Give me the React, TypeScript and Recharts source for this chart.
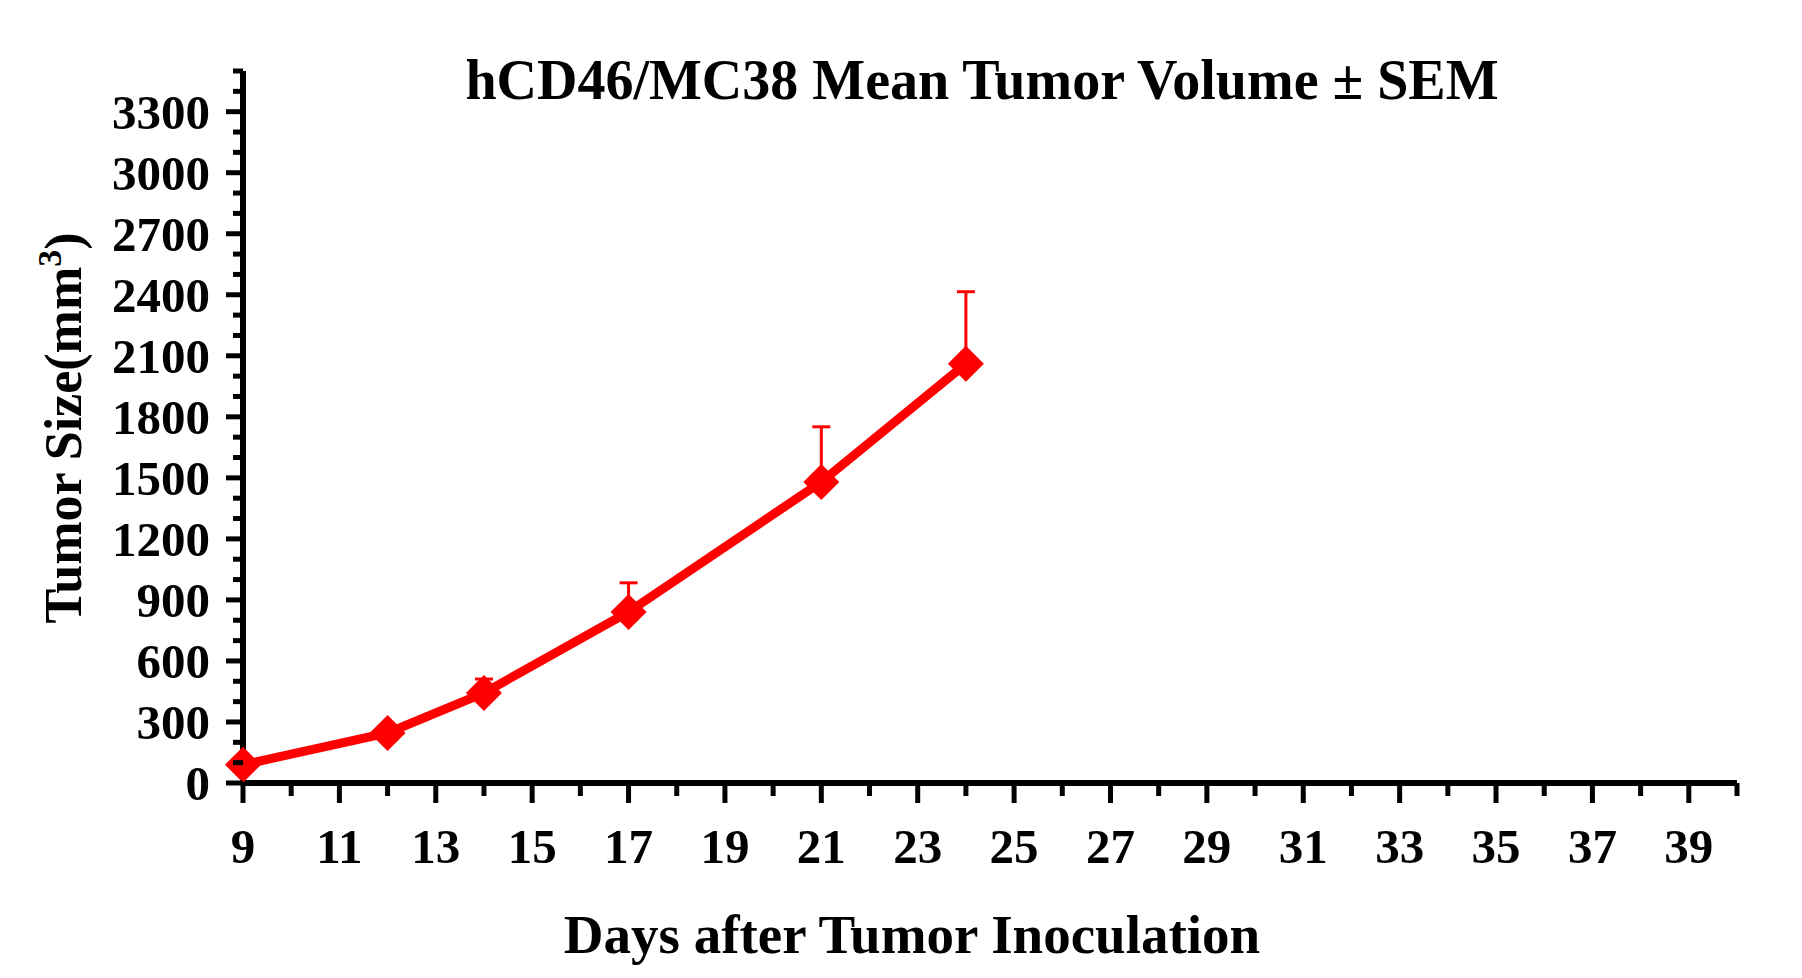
import { LineChart, Line, XAxis, YAxis, ErrorBar } from 'recharts';

// days after inoculation and the mean tumour volume with its upper SEM
const days = [9, 12, 14, 17, 21, 24];
const meanVolume = [90, 246, 443, 841, 1480, 2061];
const semVolume = [15, 30, 68, 143, 271, 354];

const xTicks = [9, 10, 11, 12, 13, 14, 15, 16, 17, 18, 19, 20, 21, 22, 23, 24, 25, 26, 27, 28, 29, 30, 31, 32, 33, 34, 35, 36, 37, 38, 39, 40];
const xLabelTicks = [9, 11, 13, 15, 17, 19, 21, 23, 25, 27, 29, 31, 33, 35, 37, 39];
const yTicks = [0, 100, 200, 300, 400, 500, 600, 700, 800, 900, 1000, 1100, 1200, 1300, 1400, 1500, 1600, 1700, 1800, 1900, 2000, 2100, 2200, 2300, 2400, 2500, 2600, 2700, 2800, 2900, 3000, 3100, 3200, 3300, 3400, 3500];
const yLabelTicks = [0, 300, 600, 900, 1200, 1500, 1800, 2100, 2400, 2700, 3000, 3300];

const chartData = days.map((d, i) => ({
  day: d,
  volume: meanVolume[i],
  err: [0, semVolume[i]],
}));

const font = "'Liberation Serif', 'Times New Roman', serif";

const YTick = (props: any) => {
  const { x, y, payload } = props;
  const major = yLabelTicks.includes(payload.value);
  return (
    <g>
      <line x1={x - (major ? 17 : 10)} x2={x} y1={y} y2={y} stroke="#000" strokeWidth={5} />
      {major && (
        <text x={x - 33} y={y + 17} textAnchor="end" fontFamily={font} fontWeight="bold" fontSize={49} fill="#000">
          {payload.value}
        </text>
      )}
    </g>
  );
};

const XTick = (props: any) => {
  const { x, y, payload } = props;
  const major = xLabelTicks.includes(payload.value);
  return (
    <g>
      <line x1={x} x2={x} y1={y} y2={y + (major ? 20 : 13)} stroke="#000" strokeWidth={5} />
      {major && (
        <text x={x} y={y + 80} textAnchor="middle" fontFamily={font} fontWeight="bold" fontSize={49} fill="#000">
          {payload.value}
        </text>
      )}
    </g>
  );
};

const Diamond = (props: any) => {
  const { cx, cy, index } = props;
  if (cx == null || cy == null) return null;
  const r = 18;
  return (
    <polygon
      key={`d-${index}`}
      points={`${cx},${cy - r} ${cx + r},${cy} ${cx},${cy + r} ${cx - r},${cy}`}
      fill="#ff0000"
    />
  );
};

export default function App() {
  return (
    <div style={{ position: 'absolute', left: 0, top: 0, width: 1802, height: 978, background: '#fff' }}>
      <LineChart
        width={1802}
        height={978}
        data={chartData}
        margin={{ top: 71, right: 65, bottom: 135, left: 183 }}
      >
        <XAxis
          dataKey="day"
          type="number"
          domain={[9, 40]}
          ticks={xTicks}
          interval={0}
          height={60}
          tickSize={0}
          tickMargin={0}
          tickLine={false}
          axisLine={{ stroke: '#000', strokeWidth: 6 }}
          tick={<XTick />}
        />
        <YAxis
          type="number"
          domain={[0, 3500]}
          ticks={yTicks}
          interval={0}
          width={60}
          tickSize={0}
          tickMargin={0}
          tickLine={false}
          axisLine={{ stroke: '#000', strokeWidth: 6 }}
          tick={<YTick />}
        />
        <Line
          dataKey="volume"
          type="linear"
          stroke="#ff0000"
          strokeWidth={9}
          dot={Diamond}
          activeDot={false}
          isAnimationActive={false}
          zIndex={700}
        >
          <ErrorBar dataKey="err" width={9} strokeWidth={3} stroke="#ff0000" direction="y" isAnimationActive={false} />
        </Line>
        <text x={982} y={99} textAnchor="middle" fontFamily={font} fontWeight="bold" fontSize={56} fill="#000">
          hCD46/MC38 Mean Tumor Volume ± SEM
        </text>
        <text x={912} y={953} textAnchor="middle" fontFamily={font} fontWeight="bold" fontSize={55} fill="#000">
          Days after Tumor Inoculation
        </text>
        <text
          transform="translate(81, 428) rotate(-90)"
          textAnchor="middle"
          fontFamily={font}
          fontWeight="bold"
          fontSize={52}
          fill="#000"
        >
          Tumor Size(mm<tspan fontSize={34} dy={-20}>3</tspan><tspan dy={20}>)</tspan>
        </text>
      </LineChart>
    </div>
  );
}
